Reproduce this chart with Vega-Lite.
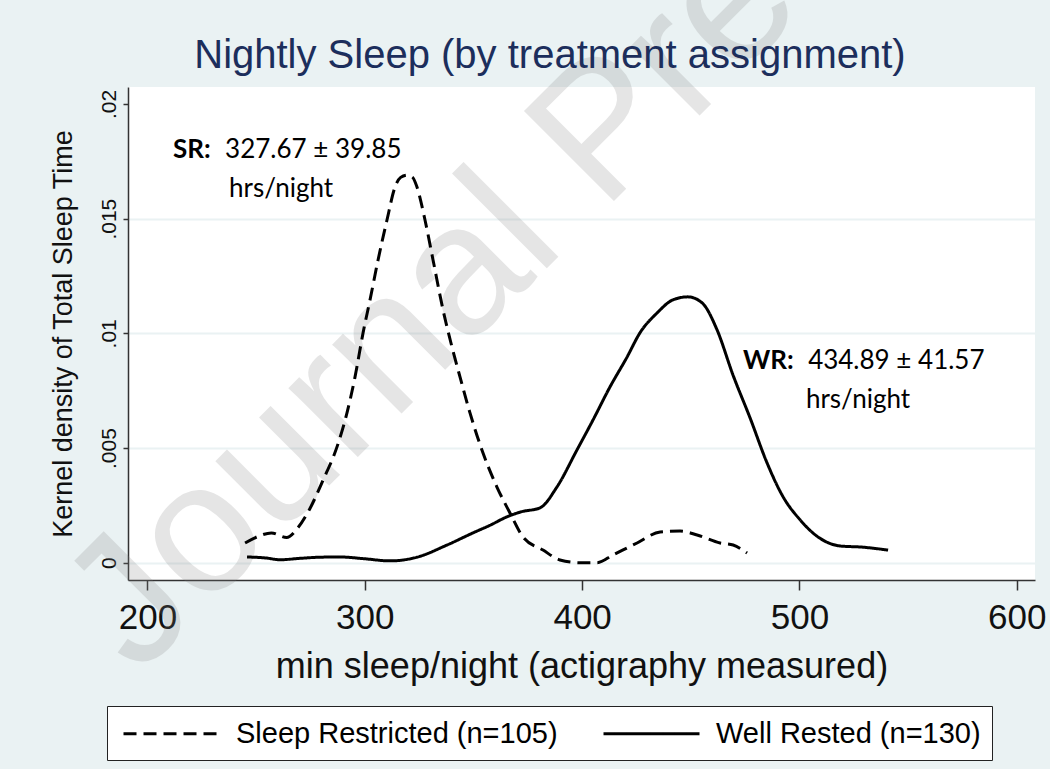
{
  "$schema": "https://vega.github.io/schema/vega-lite/v6.json",
  "width": 907,
  "height": 493,
  "autosize": {"type": "none"},
  "padding": {"left": 128, "top": 87, "right": 15, "bottom": 189},
  "background": "#EAF2F3",
  "datasets": {
    "curves": [
      {"x": 244.9, "y": 0.00086, "series": "Sleep Restricted (n=105)"},
      {"x": 251.0, "y": 0.00115, "series": "Sleep Restricted (n=105)"},
      {"x": 257.0, "y": 0.0013, "series": "Sleep Restricted (n=105)"},
      {"x": 264.0, "y": 0.0011, "series": "Sleep Restricted (n=105)"},
      {"x": 269.0, "y": 0.0015, "series": "Sleep Restricted (n=105)"},
      {"x": 273.9, "y": 0.00221, "series": "Sleep Restricted (n=105)"},
      {"x": 280.8, "y": 0.0036, "series": "Sleep Restricted (n=105)"},
      {"x": 287.2, "y": 0.00505, "series": "Sleep Restricted (n=105)"},
      {"x": 291.8, "y": 0.00653, "series": "Sleep Restricted (n=105)"},
      {"x": 295.5, "y": 0.0081, "series": "Sleep Restricted (n=105)"},
      {"x": 299.2, "y": 0.01002, "series": "Sleep Restricted (n=105)"},
      {"x": 302.4, "y": 0.01146, "series": "Sleep Restricted (n=105)"},
      {"x": 306.1, "y": 0.0132, "series": "Sleep Restricted (n=105)"},
      {"x": 310.2, "y": 0.01494, "series": "Sleep Restricted (n=105)"},
      {"x": 313.9, "y": 0.01638, "series": "Sleep Restricted (n=105)"},
      {"x": 316.5, "y": 0.0168, "series": "Sleep Restricted (n=105)"},
      {"x": 319.4, "y": 0.0169, "series": "Sleep Restricted (n=105)"},
      {"x": 322.0, "y": 0.0168, "series": "Sleep Restricted (n=105)"},
      {"x": 324.0, "y": 0.01638, "series": "Sleep Restricted (n=105)"},
      {"x": 327.7, "y": 0.01494, "series": "Sleep Restricted (n=105)"},
      {"x": 331.4, "y": 0.0132, "series": "Sleep Restricted (n=105)"},
      {"x": 336.0, "y": 0.01102, "series": "Sleep Restricted (n=105)"},
      {"x": 340.1, "y": 0.00941, "series": "Sleep Restricted (n=105)"},
      {"x": 343.8, "y": 0.0081, "series": "Sleep Restricted (n=105)"},
      {"x": 348.4, "y": 0.00653, "series": "Sleep Restricted (n=105)"},
      {"x": 354.4, "y": 0.00478, "series": "Sleep Restricted (n=105)"},
      {"x": 360.8, "y": 0.0033, "series": "Sleep Restricted (n=105)"},
      {"x": 366.8, "y": 0.00217, "series": "Sleep Restricted (n=105)"},
      {"x": 372.8, "y": 0.00112, "series": "Sleep Restricted (n=105)"},
      {"x": 382.0, "y": 0.00055, "series": "Sleep Restricted (n=105)"},
      {"x": 389.8, "y": 0.00012, "series": "Sleep Restricted (n=105)"},
      {"x": 399.0, "y": 0.0, "series": "Sleep Restricted (n=105)"},
      {"x": 406.9, "y": 0.0, "series": "Sleep Restricted (n=105)"},
      {"x": 414.2, "y": 0.00034, "series": "Sleep Restricted (n=105)"},
      {"x": 425.3, "y": 0.00086, "series": "Sleep Restricted (n=105)"},
      {"x": 435.9, "y": 0.00134, "series": "Sleep Restricted (n=105)"},
      {"x": 445.1, "y": 0.00138, "series": "Sleep Restricted (n=105)"},
      {"x": 452.9, "y": 0.00121, "series": "Sleep Restricted (n=105)"},
      {"x": 463.5, "y": 0.00086, "series": "Sleep Restricted (n=105)"},
      {"x": 469.5, "y": 0.00077, "series": "Sleep Restricted (n=105)"},
      {"x": 475.9, "y": 0.00042, "series": "Sleep Restricted (n=105)"},
      {"x": 245.8, "y": 0.00025, "series": "Well Rested (n=130)"},
      {"x": 254.1, "y": 0.00021, "series": "Well Rested (n=130)"},
      {"x": 261.0, "y": 0.00013, "series": "Well Rested (n=130)"},
      {"x": 270.2, "y": 0.00019, "series": "Well Rested (n=130)"},
      {"x": 279.4, "y": 0.00024, "series": "Well Rested (n=130)"},
      {"x": 288.6, "y": 0.00025, "series": "Well Rested (n=130)"},
      {"x": 300.1, "y": 0.00017, "series": "Well Rested (n=130)"},
      {"x": 311.6, "y": 0.00008, "series": "Well Rested (n=130)"},
      {"x": 324.0, "y": 0.00024, "series": "Well Rested (n=130)"},
      {"x": 337.8, "y": 0.00077, "series": "Well Rested (n=130)"},
      {"x": 349.8, "y": 0.0013, "series": "Well Rested (n=130)"},
      {"x": 358.0, "y": 0.00165, "series": "Well Rested (n=130)"},
      {"x": 365.4, "y": 0.002, "series": "Well Rested (n=130)"},
      {"x": 372.0, "y": 0.00222, "series": "Well Rested (n=130)"},
      {"x": 380.6, "y": 0.00239, "series": "Well Rested (n=130)"},
      {"x": 388.4, "y": 0.0033, "series": "Well Rested (n=130)"},
      {"x": 397.6, "y": 0.00491, "series": "Well Rested (n=130)"},
      {"x": 405.0, "y": 0.00622, "series": "Well Rested (n=130)"},
      {"x": 412.8, "y": 0.00766, "series": "Well Rested (n=130)"},
      {"x": 420.7, "y": 0.00897, "series": "Well Rested (n=130)"},
      {"x": 426.6, "y": 0.01002, "series": "Well Rested (n=130)"},
      {"x": 434.5, "y": 0.01089, "series": "Well Rested (n=130)"},
      {"x": 441.8, "y": 0.01146, "series": "Well Rested (n=130)"},
      {"x": 448.7, "y": 0.01159, "series": "Well Rested (n=130)"},
      {"x": 455.2, "y": 0.01133, "series": "Well Rested (n=130)"},
      {"x": 462.1, "y": 0.01015, "series": "Well Rested (n=130)"},
      {"x": 469.4, "y": 0.00819, "series": "Well Rested (n=130)"},
      {"x": 477.3, "y": 0.00631, "series": "Well Rested (n=130)"},
      {"x": 485.1, "y": 0.00435, "series": "Well Rested (n=130)"},
      {"x": 492.5, "y": 0.00287, "series": "Well Rested (n=130)"},
      {"x": 500.3, "y": 0.00187, "series": "Well Rested (n=130)"},
      {"x": 508.6, "y": 0.00112, "series": "Well Rested (n=130)"},
      {"x": 518.7, "y": 0.00073, "series": "Well Rested (n=130)"},
      {"x": 528.8, "y": 0.00068, "series": "Well Rested (n=130)"},
      {"x": 540.8, "y": 0.00055, "series": "Well Rested (n=130)"}
    ],
    "bold": [
      {"x": 211.7, "y": 0.01765, "label": "SR:"},
      {"x": 474.0, "y": 0.00843, "label": "WR:"}
    ],
    "notes": [
      {"x": 235.7, "y": 0.01765, "label": "327.67 ± 39.85"},
      {"x": 237.5, "y": 0.01595, "label": "hrs/night"},
      {"x": 504.0, "y": 0.00843, "label": "434.89 ± 41.57"},
      {"x": 503.0, "y": 0.00673, "label": "hrs/night"}
    ],
    "heading": [
      {"x": 385.2, "y": 0.02157, "label": "Nightly Sleep (by treatment assignment)"}
    ],
    "mark": [
      {"x": 195.6, "y": -0.004984, "label": "Journal Pre-proof"}
    ]
  },
  "encoding": {
    "x": {
      "field": "x",
      "type": "quantitative",
      "scale": {"domain": [191.03, 608.4], "nice": false, "zero": false},
      "axis": {
        "values": [200, 300, 400, 500, 600],
        "title": "min sleep/night (actigraphy measured)",
        "grid": false,
        "tickSize": 10,
        "labelPadding": 10,
        "labelFontSize": 35,
        "titleFontSize": 36,
        "titlePadding": 14
      }
    },
    "y": {
      "field": "y",
      "type": "quantitative",
      "scale": {"domain": [-0.000754, 0.02074], "nice": false, "zero": false},
      "axis": {
        "values": [0, 0.005, 0.01, 0.015, 0.02],
        "title": "Kernel density of Total Sleep Time",
        "labelExpr": "datum.value == 0 ? '0' : slice(format(datum.value, '.3~f'), 1)",
        "grid": true,
        "gridColor": "#EAF2F3",
        "gridWidth": 2,
        "gridOpacity": {"condition": {"test": "datum.value > 0.019", "value": 0}, "value": 1},
        "tickSize": 5,
        "labelAngle": 270,
        "labelAlign": "center",
        "labelBaseline": "bottom",
        "labelPadding": 4,
        "labelFontSize": 21,
        "titleFontSize": 27,
        "titlePadding": 21
      }
    }
  },
  "layer": [
    {
      "data": {"name": "mark"},
      "mark": {
        "type": "text",
        "font": "Liberation Sans",
        "fontSize": 185,
        "angle": -45,
        "align": "left",
        "baseline": "alphabetic",
        "color": "#7f7f7f",
        "opacity": 0.2
      },
      "encoding": {"text": {"field": "label"}}
    },
    {
      "data": {"name": "curves"},
      "mark": {
        "type": "line",
        "color": "black",
        "strokeWidth": 3,
        "interpolate": "monotone"
      },
      "encoding": {
        "strokeDash": {
          "field": "series",
          "type": "nominal",
          "scale": {
            "domain": ["Sleep Restricted (n=105)", "Well Rested (n=130)"],
            "range": [[13, 7], [1, 0]]
          },
          "legend": {
            "orient": "none",
            "legendX": -21,
            "legendY": 619,
            "direction": "horizontal",
            "title": null,
            "symbolType": "M -0.733 0 L 5.667 0",
            "symbolSize": 900,
            "symbolStrokeWidth": 3,
            "symbolStrokeColor": "black",
            "symbolFillColor": "transparent",
            "labelFont": "Liberation Sans",
            "labelFontSize": 29,
            "labelColor": "black",
            "labelLimit": 0,
            "labelOffset": 85,
            "columnPadding": 39,
            "padding": 11,
            "strokeColor": "#222",
            "fillColor": "white"
          }
        }
      }
    },
    {
      "data": {"name": "bold"},
      "mark": {
        "type": "text",
        "font": "Lato",
        "fontSize": 26,
        "fontWeight": "bold",
        "align": "left",
        "baseline": "alphabetic",
        "color": "black"
      },
      "encoding": {"text": {"field": "label"}}
    },
    {
      "data": {"name": "notes"},
      "mark": {
        "type": "text",
        "font": "Lato",
        "fontSize": 26,
        "align": "left",
        "baseline": "alphabetic",
        "color": "black"
      },
      "encoding": {"text": {"field": "label"}}
    },
    {
      "data": {"name": "heading"},
      "mark": {
        "type": "text",
        "font": "Liberation Sans",
        "fontSize": 40,
        "align": "center",
        "baseline": "alphabetic",
        "color": "#1c2e5c"
      },
      "encoding": {"text": {"field": "label"}}
    }
  ],
  "config": {
    "view": {"fill": "white", "stroke": null},
    "axis": {
      "domainColor": "#333",
      "domainWidth": 1.5,
      "tickColor": "#333",
      "tickWidth": 1.5,
      "labelFont": "Liberation Sans",
      "labelColor": "#111",
      "titleFont": "Liberation Sans",
      "titleFontWeight": "normal",
      "titleColor": "#111"
    }
  }
}
